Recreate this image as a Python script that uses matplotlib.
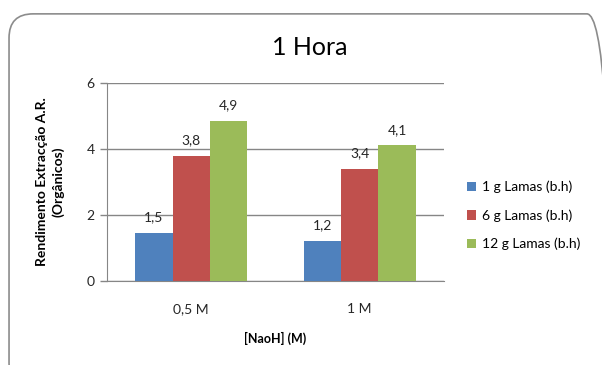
import numpy as np
import matplotlib
matplotlib.use('Agg')
import matplotlib.pyplot as plt
from matplotlib.patches import FancyBboxPatch

categories = ['0,5 M', '1 M']
series_names = ['1 g Lamas (b.h)', '6 g Lamas (b.h)', '12 g Lamas (b.h)']
values_1g = [1.46, 1.21]
values_6g = [3.78, 3.39]
values_12g = [4.85, 4.10]
labels_1g = ['1,5', '1,2']
labels_6g = ['3,8', '3,4']
labels_12g = ['4,9', '4,1']
colors = ['#4f81bd', '#c0504d', '#9bbb59']

plt.rcParams['font.family'] = ['Lato', 'DejaVu Sans']

fig = plt.figure(figsize=(6.02, 3.65), dpi=100)
fig.patch.set_facecolor('white')

# rounded chart border (runs off the right and bottom edges)
border = FancyBboxPatch((0.015, -0.06), 1.0, 1.022,
                        boxstyle='round,pad=0,rounding_size=0.04',
                        transform=fig.transFigure, facecolor='none',
                        edgecolor='#8c8c8c', linewidth=1.2,
                        mutation_aspect=602/365)
fig.patches.append(border)

ax = fig.add_axes([0.1777, 0.2301, 0.5598, 0.5438])

x = np.arange(len(categories))
w = 1 / 4.5
all_vals = [values_1g, values_6g, values_12g]
all_labels = [labels_1g, labels_6g, labels_12g]
for i in range(3):
    bars = ax.bar(x + (i - 1) * w, all_vals[i], width=w, color=colors[i],
                  label=series_names[i], zorder=3)
    for b, t in zip(bars, all_labels[i]):
        ax.annotate(t, (b.get_x() + b.get_width() / 2, b.get_height()),
                    xytext=(0, 7), textcoords='offset points',
                    ha='center', va='bottom', fontsize=10, color='#262626')

ax.set_xlim(-0.5, 1.5)
ax.set_ylim(0, 6)
ax.set_yticks([0, 2, 4, 6])
ax.set_xticks(x)
ax.set_xticklabels(categories)
ax.tick_params(axis='x', length=0, pad=16, labelsize=10, colors='#262626')
ax.tick_params(axis='y', length=5, width=1, color='#868686', pad=4,
               labelsize=10, labelcolor='#262626')
ax.grid(axis='y', color='#868686', linewidth=1, zorder=0)
for s in ['top', 'right']:
    ax.spines[s].set_visible(False)
ax.spines['left'].set_color('#868686')
ax.spines['bottom'].set_color('#868686')

ax.set_xlabel('[NaoH] (M)', fontsize=9, fontweight='bold', labelpad=12)
ax.set_ylabel('Rendimento Extracção A.R.\n(Orgânicos)', fontsize=10,
              fontweight='bold', labelpad=16, linespacing=1.35)

fig.text(0.515, 0.87, '1 Hora', ha='center', va='center', fontsize=18)

ax.legend(loc='center left', bbox_to_anchor=(1.03, 0.33), frameon=False,
          fontsize=10, handlelength=0.7, handleheight=0.7,
          handletextpad=0.4, labelspacing=1.15)

plt.savefig('out.png', dpi=100)
